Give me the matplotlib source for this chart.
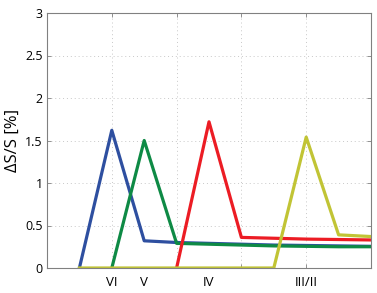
import matplotlib
matplotlib.use("Agg")
import matplotlib.pyplot as plt
import numpy as np

plt.rcParams['font.family'] = ['Open Sans', 'DejaVu Sans']

x = [1, 2, 3, 4, 5, 6, 7, 8, 9, 10]
blue = [0, 1.62, 0.32, 0.30, 0.29, 0.28, 0.27, 0.265, 0.26, 0.255]
green = [np.nan, 0, 1.50, 0.29, 0.28, 0.27, 0.26, 0.255, 0.25, 0.25]
red = [np.nan, np.nan, np.nan, 0, 1.72, 0.36, 0.35, 0.34, 0.335, 0.33]
yellow = [0, 0, 0, 0, 0, 0, 0, 1.54, 0.39, 0.37]

stage_pos = [2, 3, 5, 8]
stage_labels = ["VI", "V", "IV", "III/II"]

fig = plt.figure(figsize=(3.77, 2.93), dpi=100)
ax = fig.add_axes([47/377, 25/293, 324/377, 255/293])

lw = 2.3
ax.plot(x, blue, color="#2e4fa0", lw=lw)
ax.plot(x, green, color="#0e8a45", lw=lw)
ax.plot(x, red, color="#ec1c24", lw=lw)
ax.plot(x, yellow, color="#c1c435", lw=lw)

ax.set_xlim(0, 10)
ax.set_ylim(0, 3)
ax.set_xticks([2, 4, 6, 8])
ax.set_xticklabels([])
ax.set_yticks(np.arange(0, 3.01, 0.5))
ax.set_yticklabels(["0", "0.5", "1", "1.5", "2", "2.5", "3"])
ax.grid(True, linestyle=(0, (1, 3)), color="#c8c8c8", lw=0.7)
ax.tick_params(direction="in", top=True, right=True, length=3, width=0.6,
               color="#808080", labelsize=9, pad=3)
for s in ax.spines.values():
    s.set_color("#808080")
    s.set_linewidth(0.8)

# stage labels sit off the grid ticks
for p, lab in zip(stage_pos, stage_labels):
    ax.text(p, -0.1, lab, ha="center", va="top", fontsize=9.5)

ax.set_ylabel("ΔS/S [%]", fontsize=12, labelpad=3)

fig.savefig("out.png", dpi=100)
